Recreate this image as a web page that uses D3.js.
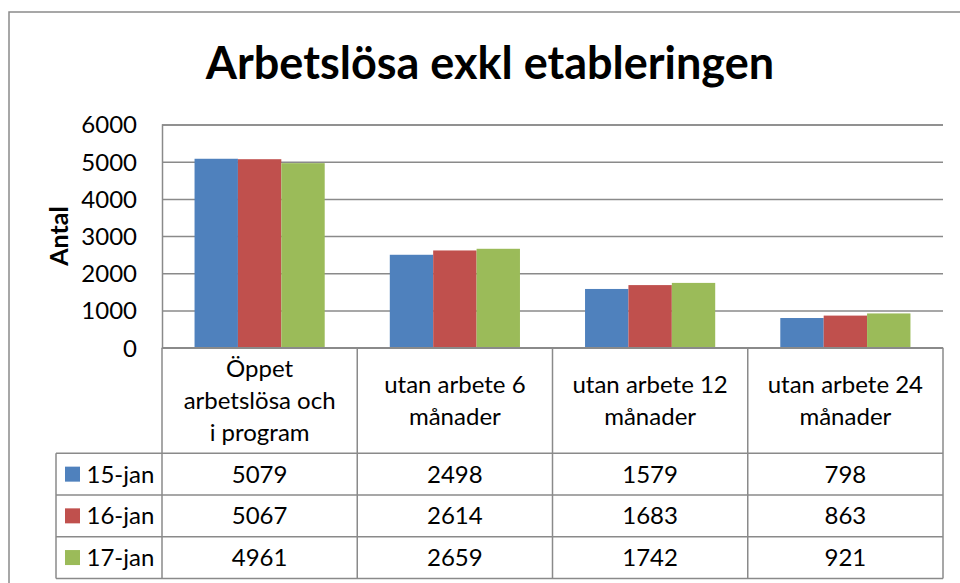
<!DOCTYPE html>
<html>
<head>
<meta charset="utf-8">
<script src="https://cdn.jsdelivr.net/npm/d3@7"></script>
<style>
  body { margin: 0; background: #fff; }
  svg text { font-family: Lato, "Open Sans", sans-serif; fill: #000; }
</style>
</head>
<body>
<svg id="chart" width="960" height="583"></svg>
<script>
// data
const categories = ["Öppet arbetslösa och i program", "utan arbete 6 månader", "utan arbete 12 månader", "utan arbete 24 månader"];
const categoryLines = [["Öppet", "arbetslösa och", "i program"], ["utan arbete 6", "månader"], ["utan arbete 12", "månader"], ["utan arbete 24", "månader"]];
const seriesNames = ["15-jan", "16-jan", "17-jan"];
const jan15 = [5079, 2498, 1579, 798];
const jan16 = [5067, 2614, 1683, 863];
const jan17 = [4961, 2659, 1742, 921];
const yTicks = [0, 1000, 2000, 3000, 4000, 5000, 6000];
const colors = ["#4F81BD", "#C0504D", "#9BBB59"];

const seriesValues = [jan15, jan16, jan17];

function translate(x, y) {
  return 'translate(' + x + ',' + y + ')';
}

const svg = d3.select("svg#chart");

const plot = {left: 162, right: 943, top: 124.5, bottom: 347.7};
const headerBottom = 453.3;
const rowH = 41.7;
const keyLeft = 56;
const lineColor = "#8a8a8a";
const fontSize = "24px";

// outer chart border
svg.append("rect")
  .attr("x", 9).attr("y", 12)
  .attr("width", 1000).attr("height", 700)
  .attr("fill", "none")
  .attr("stroke", lineColor)
  .attr("stroke-width", 1.5);

// title
svg.append("text")
  .attr("x", 490).attr("y", 79)
  .attr("text-anchor", "middle")
  .style("font-size", "45px")
  .style("font-weight", "bold")
  .text("Arbetslösa exkl etableringen");

let x0 = d3.scaleBand()
  .domain(categories)
  .range([plot.left, plot.right])
  .padding(0);

let x1 = d3.scaleBand()
  .domain(seriesNames)
  .range([0, x0.bandwidth()])
  .paddingInner(0)
  .paddingOuter(0.75);

let y = d3.scaleLinear()
  .domain([0, 6000])
  .range([plot.bottom, plot.top]);

// gridlines + y axis
const yAxis = svg.append("g")
  .attr("transform", translate(plot.left, 0))
  .call(d3.axisLeft(y).tickValues(yTicks).tickSize(-(plot.right - plot.left)).tickPadding(25).tickFormat(d3.format("d")));
yAxis.select(".domain").attr("stroke", lineColor).attr("stroke-width", 1.5);
yAxis.selectAll(".tick line").attr("stroke", lineColor).attr("stroke-width", 1.5);
yAxis.selectAll(".tick text")
  .style("font-family", "Lato, sans-serif")
  .style("font-size", fontSize)
  .attr("dy", "0.35em");

svg.append("text")
  .attr("transform", translate(68, 236) + " rotate(-90)")
  .attr("text-anchor", "middle")
  .style("font-size", "25px")
  .style("font-weight", "bold")
  .text("Antal");

// bars
const barData = [];
seriesNames.forEach(function(s, i) {
  categories.forEach(function(c, j) {
    barData.push({cat: c, series: s, value: seriesValues[i][j], color: colors[i]});
  });
});

svg.append("g")
  .selectAll("rect")
  .data(barData)
  .join("rect")
  .attr("x", d => x0(d.cat) + x1(d.series))
  .attr("y", d => y(d.value))
  .attr("width", x1.bandwidth())
  .attr("height", d => y(0) - y(d.value))
  .attr("fill", d => d.color);

// data table
const table = svg.append("g").attr("class", "table");
const tableBottom = headerBottom + rowH * seriesNames.length;

// horizontal lines
table.append("line")
  .attr("x1", plot.left).attr("x2", plot.right)
  .attr("y1", plot.bottom).attr("y2", plot.bottom);
for (let i = 0; i <= seriesNames.length; i++) {
  table.append("line")
    .attr("x1", keyLeft).attr("x2", plot.right)
    .attr("y1", headerBottom + rowH * i).attr("y2", headerBottom + rowH * i);
}
// vertical lines
table.append("line")
  .attr("x1", keyLeft).attr("x2", keyLeft)
  .attr("y1", headerBottom).attr("y2", tableBottom);
categories.forEach(function(c) {
  table.append("line")
    .attr("x1", x0(c)).attr("x2", x0(c))
    .attr("y1", plot.bottom).attr("y2", tableBottom);
});
table.append("line")
  .attr("x1", plot.right).attr("x2", plot.right)
  .attr("y1", plot.bottom).attr("y2", tableBottom);
table.selectAll("line")
  .attr("stroke", lineColor)
  .attr("stroke-width", 1.5);

// header labels
const headerMid = (plot.bottom + headerBottom) / 2;
const lineH = 31.7;
categories.forEach(function(c, j) {
  const lines = categoryLines[j];
  table.append("g")
    .selectAll("text")
    .data(lines)
    .join("text")
    .attr("x", x0(c) + x0.bandwidth() / 2)
    .attr("y", (d, k) => headerMid + (k - (lines.length - 1) / 2) * lineH)
    .attr("dy", "0.35em")
    .attr("text-anchor", "middle")
    .style("font-size", fontSize)
    .text(d => d);
});

// rows: legend key + values
seriesNames.forEach(function(s, i) {
  const rowMid = headerBottom + rowH * i + rowH / 2;
  table.append("rect")
    .attr("x", 65).attr("y", rowMid - 7.5)
    .attr("width", 15).attr("height", 15)
    .attr("fill", colors[i]);
  table.append("text")
    .attr("x", 86.5).attr("y", rowMid)
    .attr("dy", "0.35em")
    .style("font-size", fontSize)
    .text(s);
  categories.forEach(function(c, j) {
    table.append("text")
      .attr("x", x0(c) + x0.bandwidth() / 2)
      .attr("y", rowMid)
      .attr("dy", "0.35em")
      .attr("text-anchor", "middle")
      .style("font-size", fontSize)
      .text(seriesValues[i][j]);
  });
});
</script>
</body>
</html>
